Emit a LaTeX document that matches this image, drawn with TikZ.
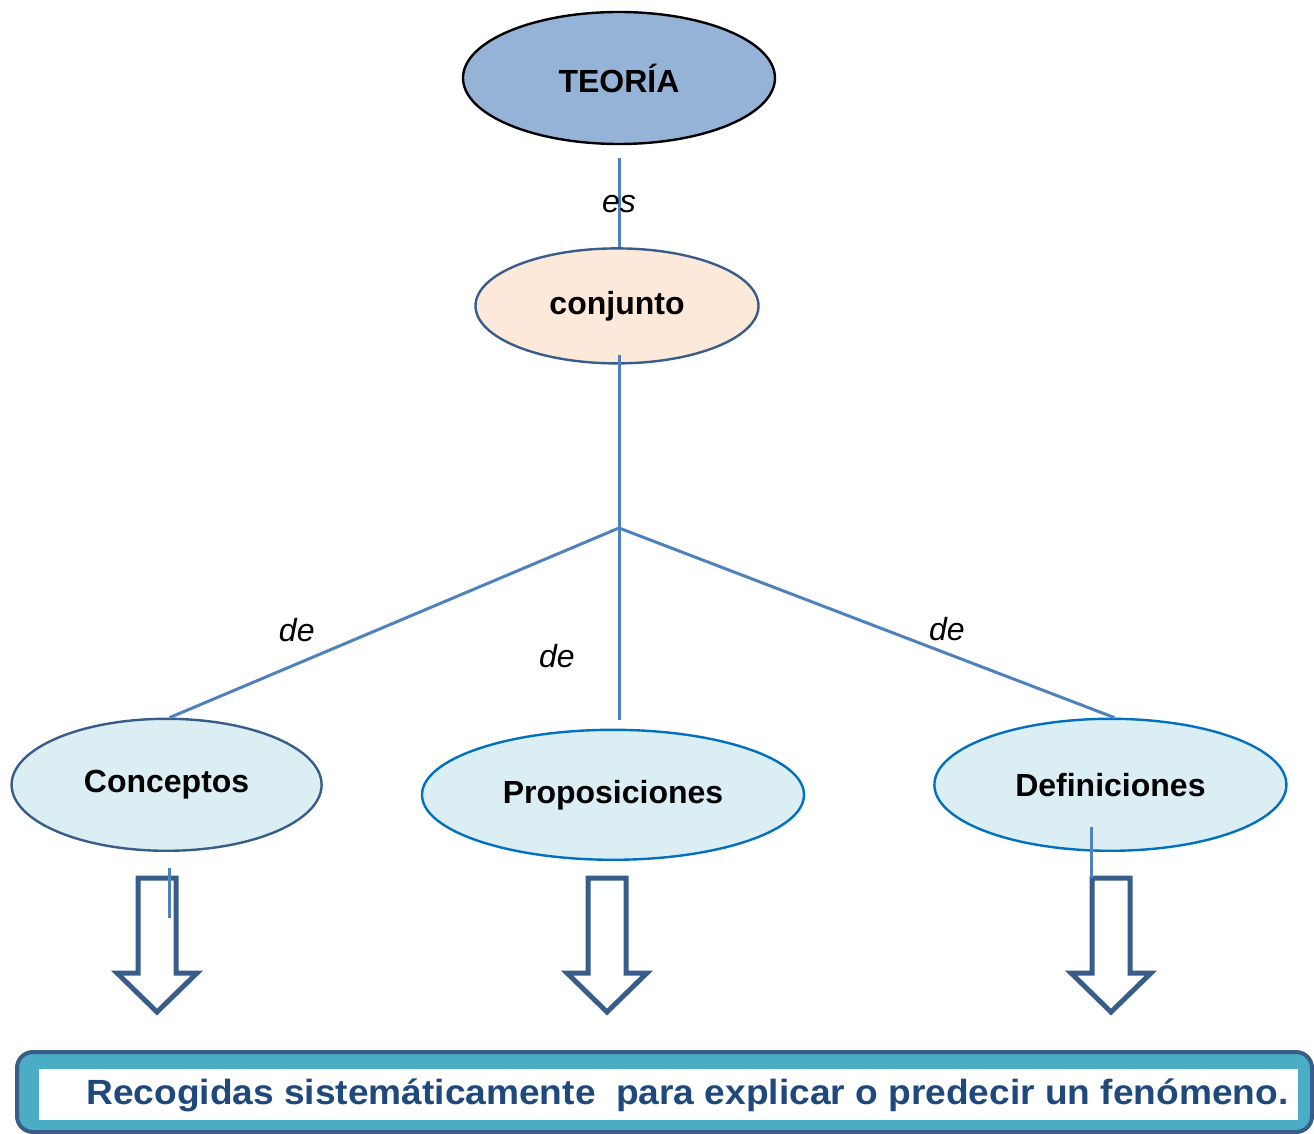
\documentclass[tikz,border=0pt]{standalone}
\usepackage{fontspec}
\setmainfont{Liberation Sans}
\newfontfamily\widesans[FakeStretch=1.06]{Liberation Sans}
\usepackage{tikz}
\usepackage{xcolor}
\usetikzlibrary{shapes.geometric, positioning}
\definecolor{theoryblue}{HTML}{95B3D7}
\definecolor{peach}{HTML}{FDE9D9}
\definecolor{paleblue}{HTML}{DAEEF3}
\definecolor{navyline}{HTML}{385D8A}
\definecolor{brightblue}{HTML}{0070C0}
\definecolor{linkblue}{HTML}{4F81BD}
\definecolor{boxteal}{HTML}{4BACC6}
\definecolor{textnavy}{HTML}{1F497D}
\tikzstyle{concept} = [ellipse, draw=navyline, fill=paleblue, line width=1.2pt, inner sep=0pt, minimum height=66pt, font=\fontsize{16}{19}\selectfont\bfseries]
\tikzstyle{link} = [draw=linkblue, line width=1.5pt]
\tikzstyle{linkword} = [inner sep=0pt, font=\fontsize{16}{19}\selectfont\itshape]
\tikzstyle{hollowarrow} = [draw=navyline, fill=white, line width=2.5pt, line join=miter]

\begin{document}
\begin{tikzpicture}[x=0.5pt, y=-0.5pt]
    \useasboundingbox (0,0) rectangle (1314,1134);

            % Nodes
            \node (teoria) [concept, fill=theoryblue, draw=black, minimum width=156pt] at (619,78) {TEORÍA};
            \node (conjunto) [concept, fill=peach, minimum width=141.5pt, minimum height=57.5pt, below=51pt of teoria, xshift=-1pt] {conjunto};
            \node (proposiciones) [concept, draw=brightblue, minimum width=191pt, minimum height=65pt, below=182pt of conjunto, xshift=-2pt] {Proposiciones};
            \node (conceptos) [concept, minimum width=155pt, left=49pt of proposiciones, yshift=5pt] {Conceptos};
            \node (definiciones) [concept, draw=brightblue, minimum width=176pt, right=64pt of proposiciones, yshift=5pt] {Definiciones};
            \coordinate (hub) at (619,528);

            % Arrows
            \draw [link] ([yshift=-6.5pt]teoria.south) -- node[linkword, pos=0.52] {es} (teoria.south |- conjunto.north);
            \draw [link] ([yshift=5pt]conjunto.south -| hub) -- (hub);
            \draw [link] (hub) -- node[linkword, pos=0.717, yshift=17pt] {de} ([xshift=1.5pt]conceptos.north);
            \draw [link] (hub) -- node[linkword, pos=0.667, xshift=-31pt] {de} ([yshift=4.5pt]proposiciones.north -| hub);
            \draw [link] (hub) -- node[linkword, pos=0.662, yshift=12pt] {de} ([xshift=2pt]definiciones.north);

            % Block arrows
            \draw [hollowarrow] (138,878) -- (176,878) -- (176,973) -- (197,973) -- (157,1012) -- (117,973) -- (138,973) -- cycle;
            \draw [hollowarrow] (588,878) -- (626,878) -- (626,973) -- (647,973) -- (607,1012) -- (567,973) -- (588,973) -- cycle;
            \draw [hollowarrow] (1092,878) -- (1130,878) -- (1130,973) -- (1151,973) -- (1111,1012) -- (1071,973) -- (1092,973) -- cycle;

            % Stubs
            \coordinate (stubC) at (169,918);
            \coordinate (stubD) at (1091,878);
            \draw [link] ([yshift=-8pt]conceptos.south -| stubC) -- (stubC);
            \draw [link] ([yshift=-21pt]definiciones.center -| stubD) -- (stubD);

            % Summary box
            \node (frame) [draw=navyline, fill=boxteal, line width=2pt, rounded corners=8pt, minimum width=647.5pt, minimum height=40pt, inner sep=0pt] at (664.5,1092) {};
            \node (inset) [fill=white, minimum width=629.5pt, minimum height=25.5pt, inner sep=0pt] at (668.5,1094.5) {};
            \node (summary) [anchor=base west, inner sep=0pt, text=textnavy, font=\widesans\fontsize{17.5}{20}\selectfont\bfseries] at (86,1104) {Recogidas sistemáticamente\ \ para explicar o predecir un fenómeno.};

        \end{tikzpicture}
\end{document}
